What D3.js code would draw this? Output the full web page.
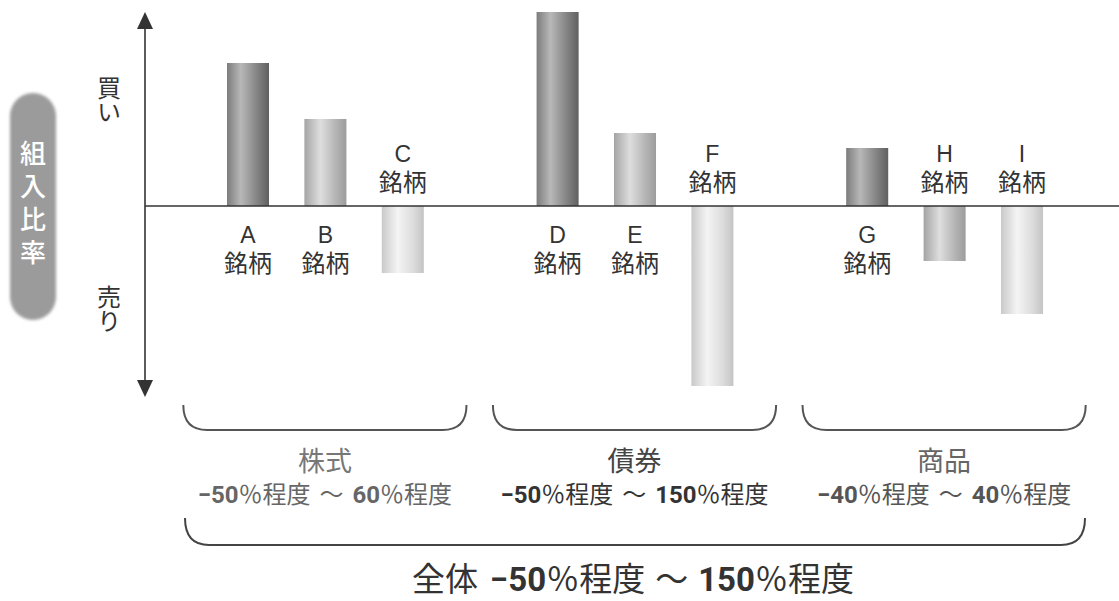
<!DOCTYPE html>
<html><head><meta charset="utf-8">
<script src="https://cdn.jsdelivr.net/npm/d3@7/dist/d3.min.js"></script>
<style>html,body{margin:0;padding:0;background:#fff;}svg{display:block;}</style>
</head><body><svg id="c" width="1119" height="601"></svg>
<script>
// ---- data ----
const groups = ["株式", "債券", "商品"];
const groupRanges = [["−50", "60"], ["−50", "150"], ["−40", "40"]];
const names = ["A", "B", "C", "D", "E", "F", "G", "H", "I"];
const nameGroup = ["株式", "株式", "株式", "債券", "債券", "債券", "商品", "商品", "商品"];
const values = [143, 87, -67, 194, 73, -180, 58, -55, -108];
const shades = ["dark", "mid", "light", "dark", "mid", "light", "dark", "mid", "light"];
const totalRange = ["−50", "150"];
const axisLabels = ["買い", "売り"];
const sideLabel = "組入比率";

const svg = d3.select("#c");
const JP = "'Noto Sans CJK JP','Noto Sans',sans-serif";
const LAT = "'Liberation Sans',Arial,sans-serif";
const NUM = "Roboto,'Liberation Sans',sans-serif";

// scales
const y = d3.scaleLinear().domain([-200, 200]).range([406, 6]);
const xg = d3.scaleBand().domain(groups).range([209.3, 1060.7]).paddingInner(0.25).paddingOuter(0);
const xi = d3.scaleBand().domain([0, 1, 2]).range([0, xg.bandwidth()]).paddingInner(0.457).paddingOuter(0.2285);

// gradients
const defs = svg.append("defs");
const gstops = {
  dark: [[0, "#7c7c7c"], [0.33, "#b8b8b8"], [0.7, "#868686"], [1, "#606060"]],
  mid: [[0, "#a4a4a4"], [0.38, "#dedede"], [0.75, "#b4b4b4"], [1, "#9c9c9c"]],
  light: [[0, "#c9c9c9"], [0.38, "#f4f4f4"], [0.75, "#dcdcdc"], [1, "#c4c4c4"]]
};
Object.entries(gstops).forEach(([k, st]) => {
  const g = defs.append("linearGradient").attr("id", "g-" + k).attr("x1", 0).attr("x2", 1).attr("y1", 0).attr("y2", 0);
  st.forEach(([o, c]) => g.append("stop").attr("offset", o).attr("stop-color", c));
});
const blur = defs.append("filter").attr("id", "soft").attr("x", "-20%").attr("y", "-20%").attr("width", "140%").attr("height", "140%");
blur.append("feGaussianBlur").attr("stdDeviation", 1.6);

// side pill
svg.append("rect").attr("x", 10).attr("y", 93).attr("width", 46).attr("height", 227).attr("rx", 23)
  .attr("fill", "#9b9b9b").attr("filter", "url(#soft)");
svg.append("text").attr("x", 33).attr("y", 206).attr("text-anchor", "middle")
  .style("writing-mode", "vertical-rl").style("letter-spacing", "7px")
  .attr("font-family", JP).attr("font-size", 26).attr("font-weight", 500).attr("fill", "#fff").text(sideLabel);

// axis labels (vertical)
[[axisLabels[0], 100], [axisLabels[1], 309]].forEach(([t, cy]) => {
  svg.append("text").attr("x", 109).attr("y", cy).attr("text-anchor", "middle")
    .style("writing-mode", "vertical-rl")
    .attr("font-family", JP).attr("font-size", 24).attr("fill", "#333").text(t);
});

// vertical arrow axis
const ax = 145;
svg.append("line").attr("x1", ax).attr("x2", ax).attr("y1", 22).attr("y2", 388).attr("stroke", "#333").attr("stroke-width", 1.6);
svg.append("path").attr("d", `M${ax},12 L${ax - 8},29 L${ax + 8},29 Z`).attr("fill", "#333");
svg.append("path").attr("d", `M${ax},397 L${ax - 8},380 L${ax + 8},380 Z`).attr("fill", "#333");

// bars
const bx = i => xg(nameGroup[i]) + xi(i % 3);
const bars = svg.append("g");
names.forEach((n, i) => {
  const v = values[i];
  bars.append("rect").attr("x", bx(i)).attr("width", xi.bandwidth())
    .attr("y", y(Math.max(0, v))).attr("height", Math.abs(y(v) - y(0)))
    .attr("fill", `url(#g-${shades[i]})`);
});

// baseline
svg.append("line").attr("x1", ax).attr("x2", 1119).attr("y1", y(0)).attr("y2", y(0)).attr("stroke", "#333").attr("stroke-width", 1.6);

// bar labels (two-line)
names.forEach((n, i) => {
  const cx = bx(i) + xi.bandwidth() / 2;
  const pos = values[i] >= 0;
  const l1 = pos ? y(0) + 37 : y(0) - 44;
  const t = svg.append("text").attr("x", cx).attr("y", l1).attr("text-anchor", "middle").attr("fill", "#333");
  t.append("tspan").attr("x", cx).attr("font-family", LAT).attr("font-size", 23).text(n);
  t.append("tspan").attr("x", cx).attr("dy", 29).attr("font-family", JP).attr("font-size", 24).text("銘柄");
});

// brackets
function bracket(x0, x1, top, bot, col) {
  const r = 24;
  svg.append("path")
    .attr("d", `M${x0},${top} Q${x0},${bot} ${x0 + r},${bot} L${x1 - r},${bot} Q${x1},${bot} ${x1},${top}`)
    .attr("fill", "none").attr("stroke", col).attr("stroke-width", 2);
}
function rangeText(t, a, b, gap) {
  t.append("tspan").attr("font-family", NUM).attr("font-weight", 700).text(a);
  t.append("tspan").attr("font-family", JP).text("％程度");
  t.append("tspan").attr("font-family", JP).attr("dx", gap).text("〜");
  t.append("tspan").attr("font-family", NUM).attr("font-weight", 700).attr("dx", gap).text(b);
  t.append("tspan").attr("font-family", JP).text("％程度");
}
const gcol = ["#777", "#444", "#666"];
const rcol = ["#666", "#333", "#555"];
groups.forEach((g, k) => {
  const x0 = xg(g) - 26, x1 = xg(g) + xg.bandwidth() + 25;
  bracket(x0, x1, 405, 430, "#555");
  const cx = (x0 + x1) / 2;
  svg.append("text").attr("x", cx).attr("y", 471).attr("text-anchor", "middle")
    .attr("font-family", JP).attr("font-size", 27).attr("fill", gcol[k]).text(g);
  const t = svg.append("text").attr("x", cx).attr("y", 503).attr("text-anchor", "middle")
    .attr("font-size", 24).attr("fill", rcol[k]);
  rangeText(t, groupRanges[k][0], groupRanges[k][1], 9);
});

// overall bracket
bracket(185, 1085, 518, 545, "#444");
const tt = svg.append("text").attr("x", 633).attr("y", 591).attr("text-anchor", "middle")
  .attr("font-size", 33).attr("fill", "#333");
tt.append("tspan").attr("font-family", JP).text("全体");
tt.append("tspan").attr("dx", 12).attr("font-family", NUM).attr("font-weight", 700).text(totalRange[0]);
tt.append("tspan").attr("font-family", JP).text("％程度");
tt.append("tspan").attr("font-family", JP).attr("dx", 10).text("〜");
tt.append("tspan").attr("font-family", NUM).attr("font-weight", 700).attr("dx", 10).text(totalRange[1]);
tt.append("tspan").attr("font-family", JP).text("％程度");
</script></body></html>
